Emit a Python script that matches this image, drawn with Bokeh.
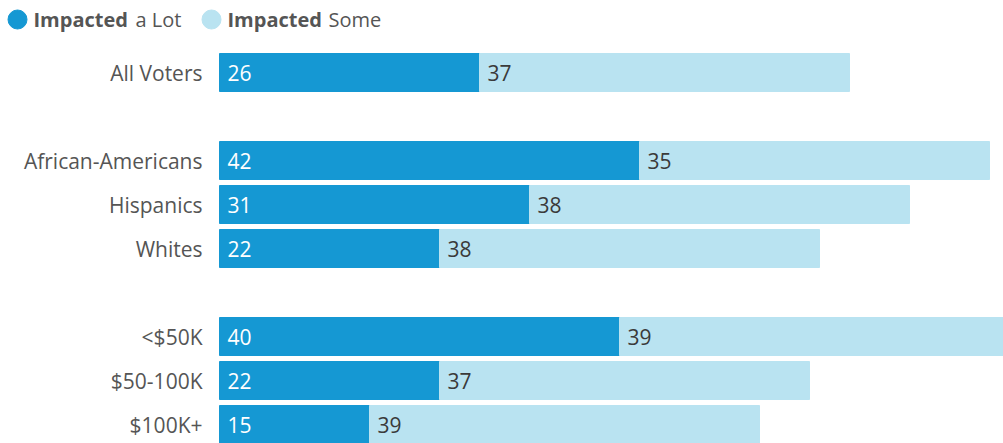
from bokeh.plotting import figure
from bokeh.models import Range1d, ColumnDataSource
from bokeh.core.properties import value
from bokeh.embed import file_html
from bokeh.resources import INLINE

categories = ["All Voters", "African-Americans", "Hispanics", "Whites", "<$50K", "$50-100K", "$100K+"]
positions = [0, 2, 3, 4, 6, 7, 8]
impacted_lot = [26, 42, 31, 22, 40, 22, 15]
impacted_some = [37, 35, 38, 38, 39, 37, 39]

DARK = "#1598d3"
LIGHT = "#b9e3f1"
FONT = "Open Sans"

total = [a + b for a, b in zip(impacted_lot, impacted_some)]
src = ColumnDataSource(dict(
    y=positions, cat=categories, lot=impacted_lot, some=impacted_some, total=total,
    lot_txt=[str(v) for v in impacted_lot], some_txt=[str(v) for v in impacted_some],
    zero=[0] * len(positions),
))

p = figure(width=1003, height=443, output_backend="svg", toolbar_location=None,
           x_range=Range1d(-21.9, 78.4), y_range=Range1d(8.4318, -1.6364),
           min_border=0, min_border_left=0, min_border_right=0,
           min_border_top=0, min_border_bottom=0, outline_line_color=None)
p.axis.visible = False
p.grid.visible = False
p.background_fill_color = "white"

h = 38 / 44
p.hbar(y="y", left="zero", right="lot", height=h, color=DARK, source=src)
p.hbar(y="y", left="lot", right="total", height=h, color=LIGHT, source=src)

p.text(x="zero", y="y", text="lot_txt", x_offset=8, text_baseline="middle",
       text_font=value(FONT), text_font_size="21px", text_color="white", source=src)
p.text(x="lot", y="y", text="some_txt", x_offset=8, text_baseline="middle",
       text_font=value(FONT), text_font_size="21px", text_color="#3a3a3a", source=src)
p.text(x="zero", y="y", text="cat", x_offset=-17, text_align="right", text_baseline="middle",
       text_font=value(FONT), text_font_size="21px", text_color="#555555", source=src)

# legend
leg_y = -1.2045
p.scatter(x=[-20.2, -0.8], y=[leg_y, leg_y], size=19, color=[DARK, LIGHT], marker="circle")
p.text(x=[-18.6, 0.8], y=[leg_y, leg_y], text=["Impacted", "Impacted"], text_baseline="middle",
       text_font=value(FONT), text_font_style="bold", text_font_size="20px", text_color="#555555")
p.text(x=[-8.4, 10.9], y=[leg_y, leg_y], text=["a Lot", "Some"], text_baseline="middle",
       text_font=value(FONT), text_font_size="20px", text_color="#555555")

open("out.html", "w").write(file_html(p, INLINE))
